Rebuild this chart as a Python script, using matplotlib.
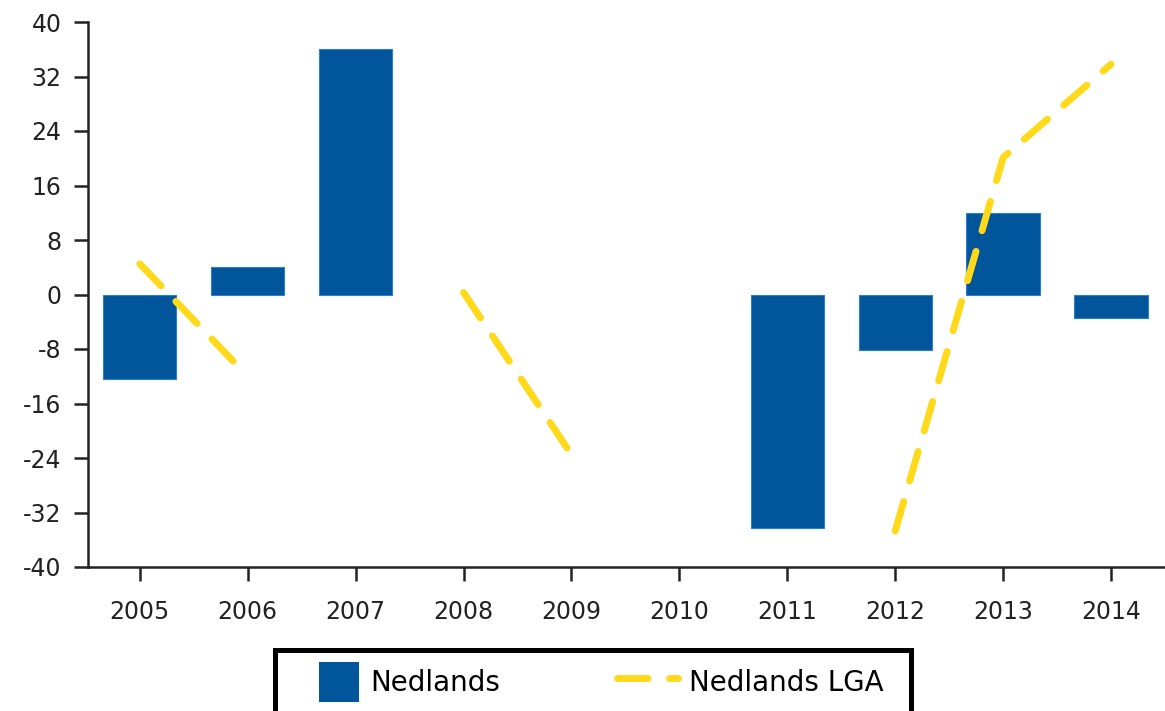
import numpy as np
import matplotlib
matplotlib.use("Agg")
import matplotlib.pyplot as plt
from matplotlib.patches import Rectangle
from matplotlib.legend_handler import HandlerPatch

years = ["2005", "2006", "2007", "2008", "2009", "2010", "2011", "2012", "2013", "2014"]
nedlands = [-12.4, 4.0, 36.1, np.nan, np.nan, np.nan, -34.3, -8.2, 11.9, -3.5]
nedlands_lga = [4.5, -12.0, np.nan, 0.3, -23.5, np.nan, np.nan, -34.7, 20.1, 33.8]
yticks = [-40, -32, -24, -16, -8, 0, 8, 16, 24, 32, 40]

BAR = '#00559B'
LINE = '#FFD91A'

plt.rcParams['font.family'] = ['DejaVu Sans']
W, H = 1165, 711
fig = plt.figure(figsize=(W/100, H/100), dpi=100)
ax = fig.add_axes([88/W, (H-567)/H, 1 - 88/W, (567-22)/H])

x = np.arange(len(years))
bars = ax.bar(x, nedlands, width=0.68, color=BAR, edgecolor='#2a7fd0', linewidth=0.8,
              label='Nedlands', zorder=2)
line, = ax.plot(x, nedlands_lga, color=LINE, linewidth=5, linestyle=(0, (4.4, 3.1)),
                dash_capstyle='round', solid_capstyle='round', label='Nedlands LGA', zorder=3)

ax.set_xlim(-0.48, 9.5)
ax.set_ylim(-40, 40)
ax.set_yticks(yticks)
ax.set_yticklabels([str(v) for v in yticks])
ax.set_xticks(x)
ax.set_xticklabels(years)
ax.tick_params(axis='both', labelsize=17, colors='#222222', length=10, width=1.8, pad=9)
ax.tick_params(axis='x', pad=14)
for s in ['top', 'right']:
    ax.spines[s].set_visible(False)
for s in ['left', 'bottom']:
    ax.spines[s].set_linewidth(1.8)
    ax.spines[s].set_color('#222222')

# legend frame
frame = Rectangle((275/W, -0.05), (911-275)/W, 0.05 + (H-650)/H, transform=fig.transFigure,
                  facecolor='white', edgecolor='black', linewidth=3.6, zorder=5)
fig.patches.append(frame)


def square_patch(legend, orig_handle, xdescent, ydescent, width, height, fontsize):
    side = 29.0
    return Rectangle((width - side - xdescent, -ydescent + (height - side) / 2), side, side,
                     facecolor=BAR, edgecolor='#2a7fd0', linewidth=0.8)


bar_proxy = Rectangle((0, 0), 1, 1, facecolor=BAR)
leg = fig.legend([bar_proxy, line], ['Nedlands', 'Nedlands LGA'],
                 handler_map={Rectangle: HandlerPatch(patch_func=square_patch)},
                 loc='center left', bbox_to_anchor=(298/W, (H-682)/H), ncol=2,
                 fontsize=20, frameon=False, handlelength=2.2, handleheight=1.45,
                 borderpad=0, handletextpad=0.4, columnspacing=4.2, borderaxespad=0)
leg.set_zorder(6)

fig.savefig('out.png', dpi=100)
